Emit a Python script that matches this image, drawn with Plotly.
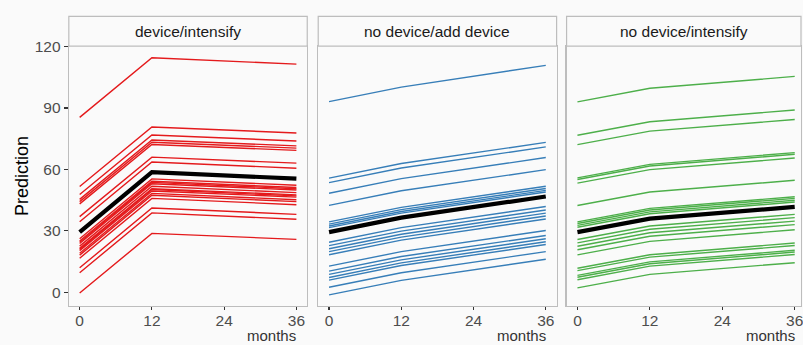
import plotly.graph_objects as go

W, H = 803, 345

months = [0, 12, 36]
x_ticks = [0, 12, 24, 36]
y_ticks = [0, 30, 60, 90, 120]

panels = ["device/intensify", "no device/add device", "no device/intensify"]
colors = ["#E41A1C", "#377EB8", "#4DAF4A"]

# device/intensify : predictions at 0, 12, 36 months for each patient
p1_m0 = [85.4, 51.7, 47.8, 45.4, 44.3, 43.2, 37.0, 34.5, 26.2, 25.1, 24.5, 23.9, 22.6,
         21.5, 21.0, 20.4, 19.1, 18.2, 16.7, 12.0, 9.6, -0.3]
p1_m12 = [114.5, 80.7, 76.8, 74.4, 73.3, 72.2, 66.0, 63.6, 55.4, 54.2, 53.7, 53.0, 51.8,
          50.6, 50.2, 49.5, 48.3, 47.4, 45.9, 41.2, 38.8, 28.8]
p1_m36 = [111.4, 77.8, 73.9, 71.5, 70.4, 69.3, 63.1, 60.6, 52.3, 51.2, 50.6, 50.0, 48.7,
          47.6, 47.1, 46.5, 45.2, 44.3, 42.8, 38.1, 35.7, 25.9]
p1_mean = [29.4, 58.7, 55.5]

# no device/add device
p2_m0 = [93.1, 55.8, 53.6, 48.4, 42.5, 34.4, 33.3, 32.4, 31.6, 24.5, 22.8, 21.3, 19.9,
         18.4, 12.8, 10.4, 8.8, 7.3, 6.0, 2.5, -1.2]
p2_m12 = [100.2, 62.9, 60.7, 55.5, 49.6, 41.5, 40.4, 39.5, 38.7, 31.6, 29.9, 28.4, 27.0,
          25.5, 19.9, 17.5, 15.9, 14.4, 13.1, 9.6, 5.9]
p2_m36 = [110.8, 73.2, 71.0, 65.8, 59.9, 51.8, 50.7, 49.8, 49.0, 41.9, 40.2, 38.7, 37.3,
          35.8, 30.2, 27.8, 26.2, 24.7, 23.4, 19.9, 16.2]
p2_mean = [29.4, 36.5, 46.8]

# no device/intensify
p3_m0 = [93.0, 76.7, 72.1, 55.9, 55.1, 53.3, 42.4, 34.4, 33.6, 32.7, 31.8, 25.8, 24.2,
         22.5, 20.8, 18.3, 11.8, 10.6, 8.3, 7.4, 6.2, 2.2]
p3_m12 = [99.6, 83.3, 78.7, 62.5, 61.7, 59.9, 49.0, 41.0, 40.2, 39.3, 38.4, 32.4, 30.8,
          29.1, 27.4, 24.9, 18.4, 17.2, 14.9, 14.0, 12.8, 8.8]
p3_m36 = [105.4, 89.0, 84.4, 68.2, 67.4, 65.6, 54.7, 46.7, 45.9, 45.0, 44.1, 38.1, 36.5,
          34.8, 33.1, 30.6, 24.1, 22.9, 20.6, 19.7, 18.5, 14.5]
p3_mean = [29.4, 36.0, 41.7]

series = [
    (p1_m0, p1_m12, p1_m36, p1_mean),
    (p2_m0, p2_m12, p2_m36, p2_mean),
    (p3_m0, p3_m12, p3_m36, p3_mean),
]

BG = "#FAFAFA"
BORDER = "#BDBDBD"
FONT = "Liberation Sans, Arial, sans-serif"

# panel pixel geometry
px_left = [69, 319, 568]
px_right = [308, 558, 803]
px_top, px_bottom, strip_top = 39, 305, 8.5
x_ranges = [[-1.8, 37.8], [-1.8, 37.8], [-1.8, 37.04]]
y_range = [-6.6, 120.2]

fig = go.Figure()

for i, (m0, m12, m36, mean) in enumerate(series):
    xa = "x" if i == 0 else f"x{i+1}"
    ya = "y" if i == 0 else f"y{i+1}"
    for a, b, c in zip(m0, m12, m36):
        fig.add_trace(go.Scatter(x=months, y=[a, b, c], mode="lines",
                                 line=dict(color=colors[i], width=1.4),
                                 xaxis=xa, yaxis=ya, showlegend=False,
                                 hoverinfo="skip"))
    fig.add_trace(go.Scatter(x=months, y=mean, mode="lines",
                             line=dict(color="black", width=4.2),
                             xaxis=xa, yaxis=ya, showlegend=False,
                             hoverinfo="skip"))

layout = dict(
    width=W, height=H,
    margin=dict(l=0, r=0, t=0, b=0),
    paper_bgcolor=BG, plot_bgcolor=BG,
    font=dict(family=FONT, size=15, color="#4D4D4D"),
    showlegend=False,
)

ydom = [1 - px_bottom / H, 1 - px_top / H]
shapes = []
annotations = []
for i in range(3):
    sfx = "" if i == 0 else str(i + 1)
    layout["xaxis" + sfx] = dict(
        domain=[px_left[i] / W, px_right[i] / W], range=x_ranges[i],
        tickvals=x_ticks, ticktext=[str(t) for t in x_ticks],
        ticks="outside", ticklen=3, tickwidth=1.1, tickcolor="#333333",
        ticklabelstandoff=-3, ticklabeloverflow="allow",
        tickfont=dict(size=15.5, color="#4D4D4D"),
        showgrid=False, zeroline=False,
        showline=True, mirror=True, linecolor=BORDER, linewidth=1.2,
        anchor="y" + sfx, fixedrange=True,
    )
    yax = dict(
        domain=ydom, range=y_range,
        showgrid=False, zeroline=False,
        showline=True, mirror=True, linecolor=BORDER, linewidth=1.2,
        anchor="x" + sfx, fixedrange=True,
    )
    if i == 0:
        yax.update(tickvals=y_ticks, ticks="outside", ticklen=4, tickwidth=1.1,
                   tickcolor="#333333", tickfont=dict(size=15.5, color="#4D4D4D"))
    else:
        yax.update(showticklabels=False, ticks="")
    layout["yaxis" + sfx] = yax

    # strip
    shapes.append(dict(type="rect", xref="paper", yref="paper",
                       x0=px_left[i] / W, x1=px_right[i] / W,
                       y0=1 - px_top / H, y1=1 - strip_top / H,
                       line=dict(color=BORDER, width=1.2), fillcolor=BG, layer="above"))
    annotations.append(dict(text=panels[i], xref="paper", yref="paper",
                            x=(px_left[i] + px_right[i]) / 2 / W,
                            y=1 - (px_top + strip_top) / 2 / H,
                            xanchor="center", yanchor="middle", showarrow=False,
                            font=dict(size=15.5, color="#1A1A1A", family=FONT)))
    # x-axis title
    annotations.append(dict(text="months", xref="x" + sfx, yref="paper",
                            x=36, y=0, xanchor="right", yanchor="bottom",
                            xshift=1, borderpad=0, showarrow=False,
                            font=dict(size=15, color="#333333", family=FONT)))

annotations.append(dict(text="Prediction", xref="paper", yref="paper",
                        x=22 / W, y=1 - 172 / H, textangle=-90,
                        xanchor="center", yanchor="middle", showarrow=False,
                        font=dict(size=18, color="#000000", family=FONT)))

layout["shapes"] = shapes
layout["annotations"] = annotations
fig.update_layout(**layout)

fig.write_html(
    "out.html",
    config={"displayModeBar": False, "staticPlot": True},
    post_script="document.body.style.margin='0';document.body.style.padding='0';"
                "document.body.style.overflow='hidden';",
)
